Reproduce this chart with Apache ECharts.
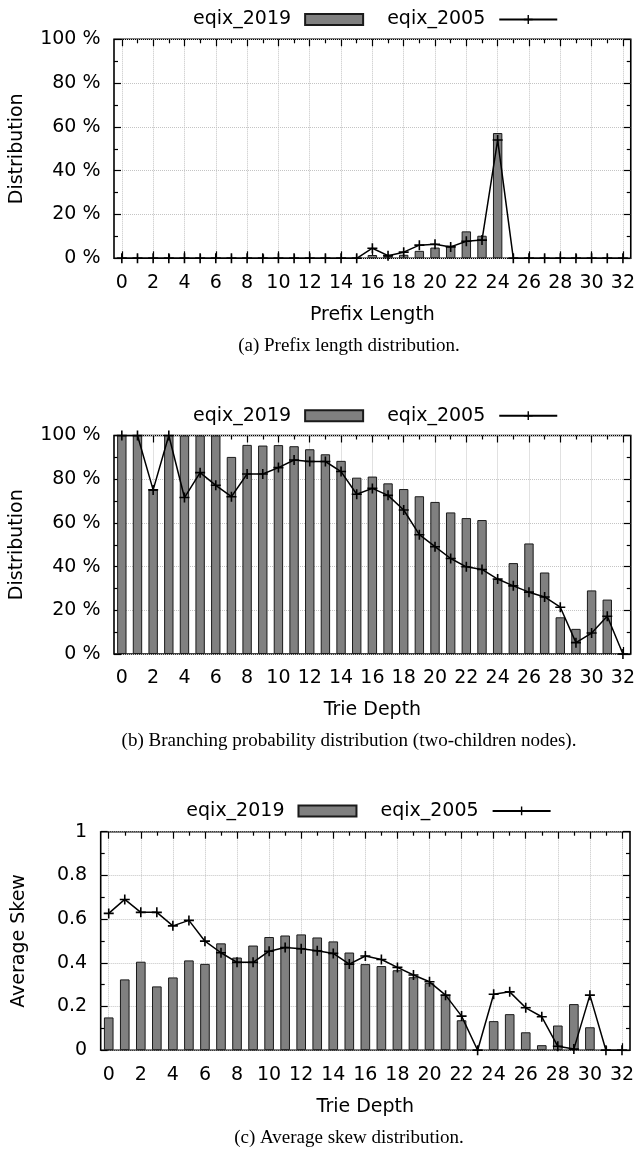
<!DOCTYPE html>
<html>
<head>
<meta charset="utf-8">
<script src="https://cdn.jsdelivr.net/npm/echarts@6/dist/echarts.min.js"></script>
<style>
html,body{margin:0;padding:0;background:#fff;}
#chart{width:638px;height:1155px;}
</style>
</head>
<body>
<div id="chart"></div>
<script>
// ---- tick labels / categories ----
const xCats = ['0','1','2','3','4','5','6','7','8','9','10','11','12','13','14','15','16','17','18','19','20','21','22','23','24','25','26','27','28','29','30','31','32'];
const seriesNames = ['eqix_2019', 'eqix_2005'];

// ---- (a) prefix length distribution, % ----
const prefix2019 = [0,0,0,0,0,0,0,0,0,0,0,0,0,0,0,0, 1.5,1.1,1.6,3.4,4.9,5.8,12.3,10.3,57.2, 0,0,0,0,0,0,0,0];
const prefix2005 = [0,0,0,0,0,0,0,0,0,0,0,0,0,0,0,0, 4.6,1.2,2.8,6.0,6.4,5.2,7.8,8.3,54.0, 0,0,0,0,0,0,0,0];

// ---- (b) branching probability, % ----
const branch2019 = [100,100,75.1,100,100,100,100,90.2,95.7,95.4,95.6,95.1,93.7,91.4,88.4,80.7,81.2,78.1,75.5,72.2,69.6,64.8,62.2,61.3,34.3,41.6,50.6,37.3,16.8,11.5,29.1,24.9,0];
const branch2005 = [100,100,75.1,100,71.6,83.0,77.2,72.0,82.4,82.4,85.3,88.8,88.1,88.1,83.5,73.1,75.8,72.6,65.9,54.6,49.1,43.7,39.9,38.7,34.3,31.2,28.3,26.1,21.4,5.2,9.6,17.3,0];

// ---- (c) average skew ----
const skew2019 = [0.150,0.324,0.405,0.292,0.333,0.411,0.395,0.489,0.424,0.479,0.518,0.525,0.530,0.516,0.498,0.447,0.394,0.385,0.366,0.334,0.307,0.253,0.137,0,0.133,0.165,0.082,0.023,0.113,0.211,0.105,0,0];
const skew2005 = [0.626,0.690,0.631,0.631,0.569,0.594,0.499,0.446,0.402,0.402,0.453,0.470,0.464,0.455,0.443,0.394,0.431,0.415,0.379,0.344,0.313,0.252,0.156,0,0.256,0.267,0.194,0.153,0.018,0.005,0.252,0,0];

const captions = [
  '(a) Prefix length distribution.',
  '(b) Branching probability distribution (two-children nodes).',
  '(c) Average skew distribution.'
];
const xNames = ['Prefix Length', 'Trie Depth', 'Trie Depth'];
const yNames = ['Distribution', 'Distribution', 'Average Skew'];

const FONT = 'DejaVu Sans';
const FS = 19;
const PLUS = 'path://M4.2,0H5.8V4.2H10V5.8H5.8V10H4.2V5.8H0V4.2H4.2Z';

const panels = [
  {grid:{left:113, top:39.3, width:518, height:219}, y:{max:100, interval:20, pct:true}, b:prefix2019, l:prefix2005, nameGapY:87, legendTop:5},
  {grid:{left:113, top:435.5, width:518, height:218.5}, y:{max:100, interval:20, pct:true}, b:branch2019, l:branch2005, nameGapY:87, legendTop:401.2},
  {grid:{left:100.7, top:831.7, width:529.3, height:218.5}, y:{max:1, interval:0.2, pct:false}, b:skew2019, l:skew2005, nameGapY:72, legendTop:796.4}
];

const grids = [], xAxes = [], yAxes = [], series = [], legends = [], graphics = [];
const even = (i) => i % 2 === 0;
const odd = (i) => i % 2 === 1;
const tickStyle = {color:'#000', width:1.2};
const gridLine = {color:'#c4c4c4', type:'dotted', width:1};

panels.forEach((p, k) => {
  grids.push(Object.assign({show:true, borderColor:'#000', borderWidth:1.6, backgroundColor:'transparent'}, p.grid));
  const base = {type:'category', data:xCats, gridIndex:k, boundaryGap:true, axisLine:{show:false}};
  // bottom major
  xAxes.push(Object.assign({}, base, {
    position:'bottom',
    axisTick:{show:true, inside:true, alignWithLabel:true, interval:even, length:7, lineStyle:tickStyle},
    axisLabel:{show:true, interval:even, margin:15, fontSize:FS, fontFamily:FONT, color:'#000'},
    splitLine:{show:true, interval:even, alignWithLabel:true, lineStyle:gridLine},
    name:xNames[k], nameLocation:'middle', nameGap:47,
    nameTextStyle:{fontSize:FS, fontFamily:FONT, color:'#000'}
  }));
  // bottom minor
  xAxes.push(Object.assign({}, base, {
    position:'bottom', axisLabel:{show:false}, splitLine:{show:false},
    axisTick:{show:true, inside:true, alignWithLabel:true, interval:odd, length:4, lineStyle:tickStyle}
  }));
  // top major / minor
  xAxes.push(Object.assign({}, base, {
    position:'top', axisLabel:{show:false}, splitLine:{show:false},
    axisTick:{show:true, inside:true, alignWithLabel:true, interval:even, length:7, lineStyle:tickStyle}
  }));
  xAxes.push(Object.assign({}, base, {
    position:'top', axisLabel:{show:false}, splitLine:{show:false},
    axisTick:{show:true, inside:true, alignWithLabel:true, interval:odd, length:4, lineStyle:tickStyle}
  }));
  const fmt = p.y.pct ? (v) => v + ' %' : (v) => (v === 0 ? '0' : (v === 1 ? '1' : v.toFixed(1)));
  const ybase = {type:'value', gridIndex:k, min:0, max:p.y.max, interval:p.y.interval, axisLine:{show:false},
    axisTick:{show:true, inside:true, length:7, lineStyle:tickStyle},
    minorTick:{show:true, splitNumber:2, length:4, lineStyle:tickStyle}};
  yAxes.push(Object.assign({}, ybase, {
    position:'left',
    axisLabel:{show:true, formatter:fmt, margin:13.5, fontSize:FS, fontFamily:FONT, color:'#000'},
    splitLine:{show:true, lineStyle:gridLine},
    minorSplitLine:{show:false},
    name:yNames[k], nameLocation:'middle', nameGap:p.nameGapY,
    nameTextStyle:{fontSize:FS, fontFamily:FONT, color:'#000'}
  }));
  yAxes.push(Object.assign({}, ybase, {
    position:'right', axisLabel:{show:false}, splitLine:{show:false}
  }));
  series.push({
    name:seriesNames[0], type:'bar', xAxisIndex:k*4, yAxisIndex:k*2, data:p.b, barWidth:'60%', z:2,
    itemStyle:{color:'#808080', borderColor:'#1a1a1a', borderWidth:1}
  });
  series.push({
    name:seriesNames[1], type:'line', xAxisIndex:k*4, yAxisIndex:k*2, data:p.l, z:3,
    symbol:PLUS, symbolSize:10, showAllSymbol:true,
    lineStyle:{color:'#000', width:1.5}, itemStyle:{color:'#000'}
  });
  const center = p.grid.left + p.grid.width / 2;
  legends.push({
    data:[{name:seriesNames[0], icon:'rect'}, {name:seriesNames[1]}],
    orient:'horizontal', align:'right',
    left:center - 184, top:p.legendTop,
    itemWidth:58, itemHeight:11, itemGap:23,
    selectedMode:false,
    textStyle:{fontSize:FS, fontFamily:FONT, color:'#000', padding:[0, 9, 0, 0]}
  });
  graphics.push({
    type:'text', x:349,
    y: p.grid.top + p.grid.height + 78,
    style:{text:captions[k], font:'19px "Liberation Serif"', fill:'#000', textAlign:'center', textVerticalAlign:'top'}
  });
});

const chart = echarts.init(document.getElementById('chart'), null, {renderer:'canvas'});
chart.setOption({
  animation:false,
  backgroundColor:'#fff',
  textStyle:{fontFamily:FONT},
  grid:grids, xAxis:xAxes, yAxis:yAxes, series:series, legend:legends,
  graphic:graphics
});
</script>
</body>
</html>
